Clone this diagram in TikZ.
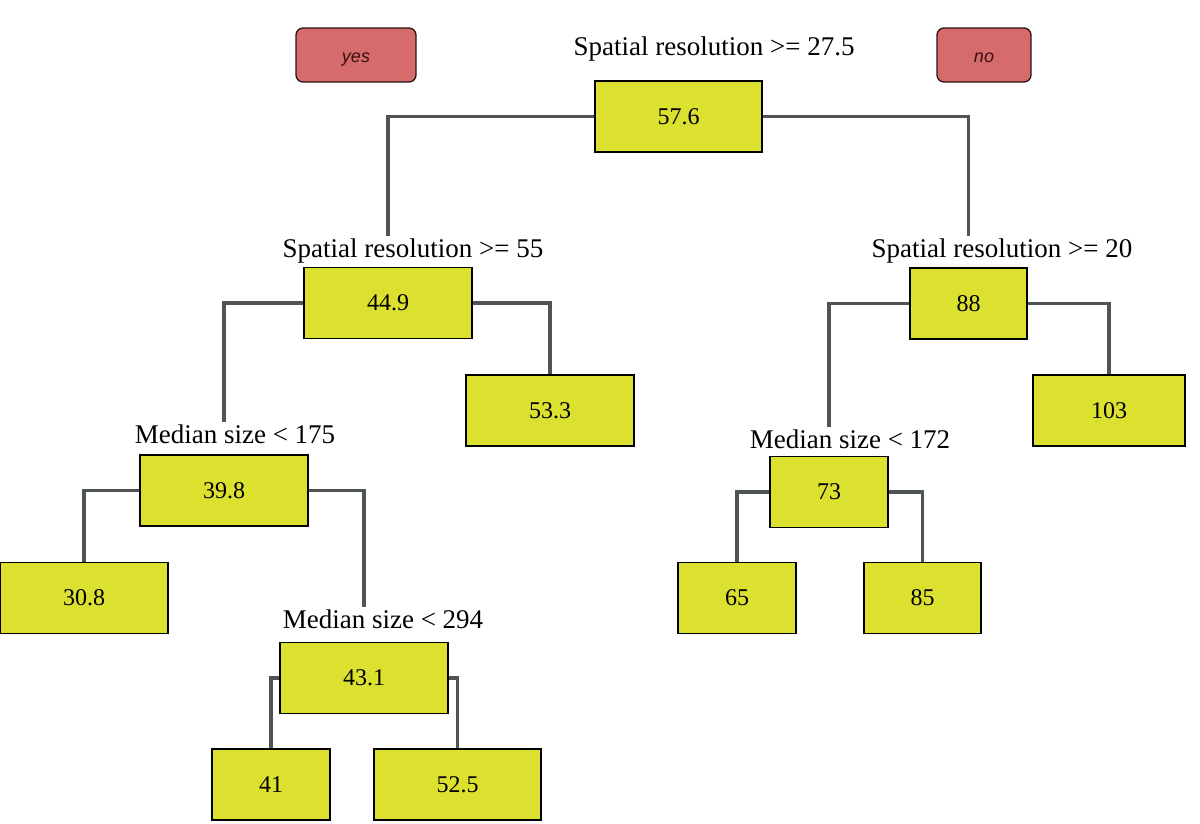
\documentclass[tikz,border=0pt]{standalone}
\usepackage{fontspec}
\setmainfont{Liberation Serif}
\newfontfamily\yesfont{Liberation Sans}
\begin{document}
\begin{tikzpicture}[x=1pt,y=-1pt,
  box/.style={draw=black, line width=1.3pt, fill=boxfill, inner sep=0pt, minimum height=71pt, font=\fontsize{24}{26}\selectfont},
  lab/.style={inner sep=2.5pt, anchor=base, font=\fontsize{27}{30}\selectfont},
  yn/.style={draw=ynborder, line width=1.3pt, fill=ynfill, rounded corners=7pt, minimum height=54pt, inner sep=0pt, text height=14pt, text depth=0pt, text=yntext, font=\yesfont\itshape\fontsize{18}{20}\selectfont},
  edge/.style={draw=edgecol, line width=3.8pt}]
\definecolor{boxfill}{HTML}{DCE02E}
\definecolor{ynfill}{HTML}{D66B6B}
\definecolor{ynborder}{HTML}{2E1414}
\definecolor{yntext}{HTML}{3A0E0E}
\definecolor{edgecol}{HTML}{4F5454}
\useasboundingbox (0,0) rectangle (1200,823);
\node[yn, minimum width=120pt] (yes) at (356,55) {yes};
\node[yn, minimum width=94pt] (no) at (984,55) {no};
% boxes
\node[box, minimum width=167pt] (root) at (678.5,116.5) {57.6};
\node[box, minimum width=168pt] (n2) at (388,303) {44.9};
\node[box, minimum width=117pt] (n3) at (968.5,303.5) {88};
\node[box, minimum width=168pt] (n53) at (550,410.5) {53.3};
\node[box, minimum width=152pt] (n103) at (1109,410.5) {103};
\node[box, minimum width=168pt] (n39) at (224,490.5) {39.8};
\node[box, minimum width=168pt] (n30) at (84,598) {30.8};
\node[box, minimum width=168pt] (n43) at (364,678) {43.1};
\node[box, minimum width=118pt] (n41) at (271,784.5) {41};
\node[box, minimum width=167pt] (n52) at (457.5,784.5) {52.5};
\node[box, minimum width=118pt] (n73) at (829,492) {73};
\node[box, minimum width=118pt] (n65) at (737,598) {65};
\node[box, minimum width=117pt] (n85) at (922.5,598) {85};
% labels
\node[lab] (l1) at (714,55) {Spatial resolution >= 27.5};
\node[lab] (l2) at (413,257) {Spatial resolution >= 55};
\node[lab] (l3) at (1002,257) {Spatial resolution >= 20};
\node[lab] (l39) at (235,443) {Median size < 175};
\node[lab] (l73) at (850,448) {Median size < 172};
\node[lab] (l43) at (383,628) {Median size < 294};
% edges
\draw[edge] (root.west) -| (n2 |- l2.north);
\draw[edge] (root.east) -| (n3 |- l3.north);
\draw[edge] (n2.west) -| (n39 |- l39.north);
\draw[edge] (n2.east) -| (n53.north);
\draw[edge] (n3.west) -| (n73 |- l73.north);
\draw[edge] (n3.east) -| (n103.north);
\draw[edge] (n39.west) -| (n30.north);
\draw[edge] (n39.east) -| (n43 |- l43.north);
\draw[edge] (n43.west) -| (n41.north);
\draw[edge] (n43.east) -| (n52.north);
\draw[edge] (n73.west) -| (n65.north);
\draw[edge] (n73.east) -| (n85.north);
\end{tikzpicture}
\end{document}
